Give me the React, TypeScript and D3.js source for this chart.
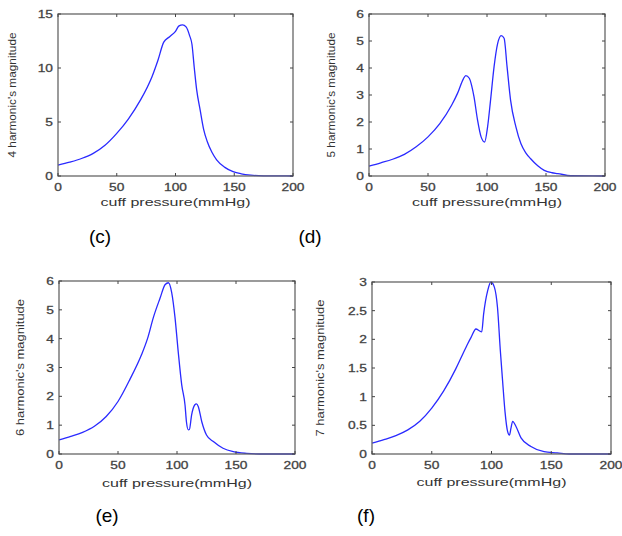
import React from "react";
import * as d3 from "d3";

// cuff pressure (mmHg) sample points and harmonic magnitudes
const pressC = [0, 10, 20, 30, 40, 50, 60, 70, 80, 85, 90, 95, 100, 103, 106, 109, 112, 114, 116, 118, 121, 124, 127, 131, 135, 142, 149, 156, 164, 175, 190, 200];
const magC = [1.0, 1.28, 1.62, 2.1, 2.85, 3.95, 5.3, 7.0, 9.2, 10.7, 12.4, 12.9, 13.4, 13.9, 14.0, 13.8, 13.0, 12.2, 10.0, 8.0, 6.1, 4.3, 3.2, 2.2, 1.5, 0.8, 0.4, 0.2, 0.08, 0.02, 0.01, 0];

const pressD = [0, 10, 20, 30, 40, 50, 60, 70, 75, 80, 82, 85, 87, 89, 92, 95, 98, 100.5, 103, 106, 109, 112, 114.5, 117, 120, 124.5, 128.7, 133, 137, 143, 148.5, 155, 160, 171, 200];
const magD = [0.37, 0.49, 0.62, 0.8, 1.08, 1.45, 1.94, 2.62, 3.06, 3.6, 3.72, 3.62, 3.35, 2.93, 2.07, 1.45, 1.26, 1.82, 2.8, 4.05, 4.9, 5.2, 5.1, 4.05, 2.8, 1.82, 1.2, 0.85, 0.64, 0.38, 0.21, 0.12, 0.09, 0.01, 0];

const pressE = [0, 10, 20, 30, 40, 50, 60, 70, 75, 80, 85.6, 90, 92.7, 95.5, 98.3, 101, 104, 106.8, 108, 109.6, 110.5, 112.4, 115, 116.5, 118, 121, 125, 130.8, 139, 147.7, 159, 170, 200];
const magE = [0.49, 0.61, 0.75, 0.96, 1.3, 1.82, 2.58, 3.45, 4.0, 4.74, 5.4, 5.88, 5.94, 5.6, 4.74, 3.56, 2.4, 1.7, 1.12, 0.84, 0.85, 1.36, 1.7, 1.74, 1.65, 1.12, 0.66, 0.43, 0.2, 0.08, 0.02, 0, 0];

const pressF = [0, 10, 20, 30, 40, 50, 60, 70, 75, 80, 82.8, 87, 89.8, 91.8, 93.4, 96.8, 99.6, 102.4, 105, 107.4, 109.3, 111.3, 113.5, 115, 116.3, 117.7, 120.5, 124.7, 133, 144, 155, 165, 200];
const magF = [0.19, 0.25, 0.32, 0.42, 0.57, 0.8, 1.1, 1.48, 1.7, 1.92, 2.03, 2.18, 2.15, 2.13, 2.44, 2.85, 3.0, 2.91, 2.56, 1.8, 1.27, 0.74, 0.39, 0.33, 0.45, 0.57, 0.48, 0.28, 0.13, 0.04, 0.02, 0, 0];

const xTicks = [0, 50, 100, 150, 200];
const yTicksC = [0, 5, 10, 15];
const yTicksD = [0, 1, 2, 3, 4, 5, 6];
const yTicksE = [0, 1, 2, 3, 4, 5, 6];
const yTicksF = [0, 0.5, 1, 1.5, 2, 2.5, 3];

const xTitle = "cuff pressure(mmHg)";
const yTitles = ["4 harmonic's magnitude", "5 harmonic's magnitude", "6 harmonic's magnitude", "7 harmonic's magnitude"];
const captions = ["(c)", "(d)", "(e)", "(f)"];

const font = "'Liberation Sans', Arial, sans-serif";

function Panel(props) {
  const { xs, ys, yTicks, left, right, top, bottom, yLabel, yLabelX, yLabelLen, titleOff, caption, capX, capY } = props;
  const xScale = d3.scaleLinear().domain([0, 200]).range([left, right]);
  const yScale = d3.scaleLinear().domain([0, yTicks[yTicks.length - 1]]).range([bottom, top]);
  const pts = xs.map((x, i) => [x, ys[i]]);
  const line = d3.line()
    .x((d) => xScale(d[0]))
    .y((d) => yScale(d[1]))
    .curve(d3.curveMonotoneX);
  const tk = 3;
  const midY = (top + bottom) / 2;
  return (
    <g>
      <path d={line(pts)} fill="none" stroke="#2a2aff" strokeWidth={1.3} />
      <rect x={left} y={top} width={right - left} height={bottom - top} fill="none" stroke="#666" strokeWidth={1.3} />
      {xTicks.map((v) => (
        <g key={"x" + v}>
          <line x1={xScale(v)} x2={xScale(v)} y1={bottom} y2={bottom - tk} stroke="#444" />
          <line x1={xScale(v)} x2={xScale(v)} y1={top} y2={top + tk} stroke="#444" />
          <text transform={`translate(${xScale(v)},${bottom + 15}) scale(1.25,1)`} textAnchor="middle" fontSize={11} fill="#333"
            stroke="#555" strokeWidth={0.3} fontFamily={font}>{v}</text>
        </g>
      ))}
      {yTicks.map((v) => (
        <g key={"y" + v}>
          <line x1={left} x2={left + tk} y1={yScale(v)} y2={yScale(v)} stroke="#444" />
          <line x1={right} x2={right - tk} y1={yScale(v)} y2={yScale(v)} stroke="#444" />
          <text transform={`translate(${left - 5},${yScale(v) + 4}) scale(1.25,1)`} textAnchor="end" fontSize={11} fill="#333"
            stroke="#555" strokeWidth={0.3} fontFamily={font}>{v}</text>
        </g>
      ))}
      <text x={(left + right) / 2} y={bottom + titleOff} textAnchor="middle" fontSize={10.5} fill="#333" fontFamily={font}
        textLength={150} lengthAdjust="spacingAndGlyphs">{xTitle}</text>
      <text transform={`translate(${yLabelX + 3.5},${midY}) rotate(-90)`} textAnchor="middle" fontSize={10} fill="#333" fontFamily={font}
        textLength={yLabelLen} lengthAdjust="spacingAndGlyphs">{yLabel}</text>
      <text x={capX} y={capY} textAnchor="middle" fontSize={19} fill="#000" fontFamily={font}>{caption}</text>
    </g>
  );
}

export default function App() {
  return (
    <div style={{ position: "absolute", left: 0, top: 0, width: 622, height: 536, background: "#fff" }}>
      <svg width={622} height={536} style={{ display: "block" }}>
        <Panel xs={pressC} ys={magC} yTicks={yTicksC} left={58} right={293} top={14} bottom={176}
          yLabel={yTitles[0]} yLabelX={12} yLabelLen={125} titleOff={30} caption={captions[0]} capX={100} capY={243} />
        <Panel xs={pressD} ys={magD} yTicks={yTicksD} left={369} right={605} top={14} bottom={176}
          yLabel={yTitles[1]} yLabelX={331} yLabelLen={125} titleOff={30} caption={captions[1]} capX={310} capY={243} />
        <Panel xs={pressE} ys={magE} yTicks={yTicksE} left={59} right={295} top={281} bottom={454}
          yLabel={yTitles[2]} yLabelX={20} yLabelLen={137} titleOff={33} caption={captions[2]} capX={107} capY={522} />
        <Panel xs={pressF} ys={magF} yTicks={yTicksF} left={372} right={611} top={282} bottom={454}
          yLabel={yTitles[3]} yLabelX={320} yLabelLen={137} titleOff={32} caption={captions[3]} capX={366} capY={522} />
      </svg>
    </div>
  );
}
